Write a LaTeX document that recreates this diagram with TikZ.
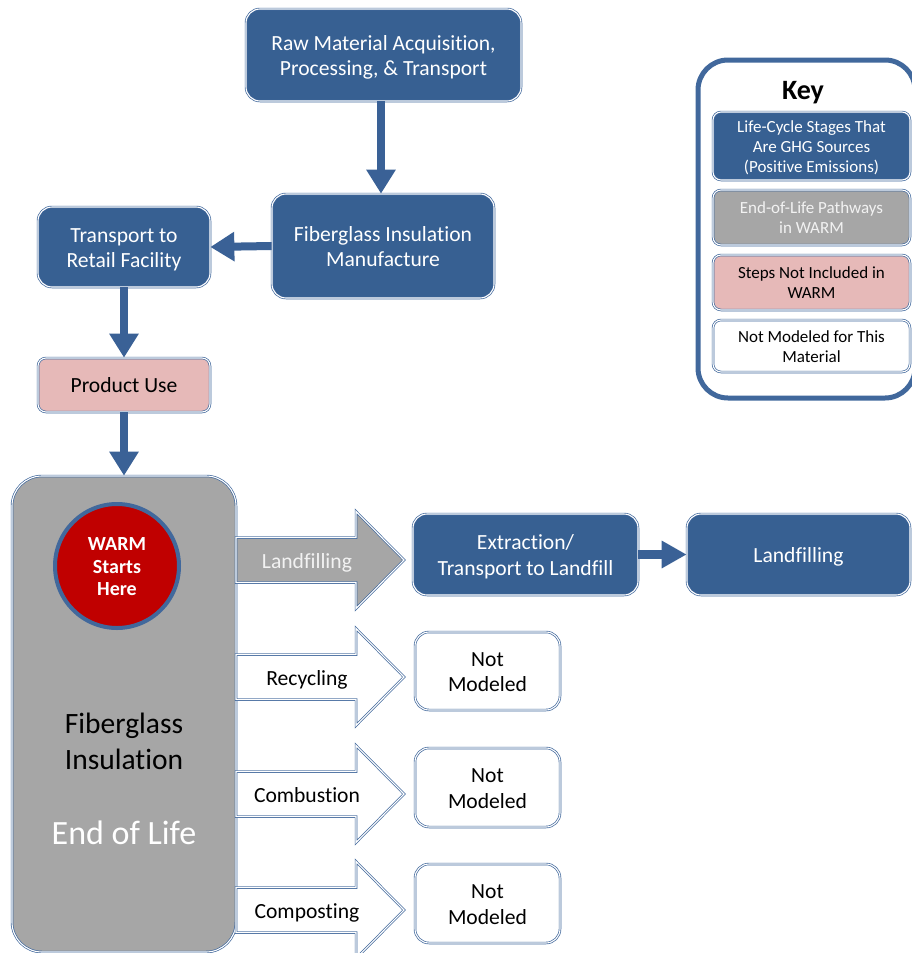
\documentclass[tikz,border=0pt]{standalone}
\usepackage{fontspec}
\setmainfont{Carlito}[Ligatures=NoCommon]
\usetikzlibrary{arrows.meta,calc}
\definecolor{boxblue}{HTML}{376092}
\definecolor{bord}{HTML}{41689C}
\definecolor{grayfill}{HTML}{A6A6A6}
\definecolor{pinkfill}{HTML}{E6B9B8}
\definecolor{warmred}{HTML}{C00000}
\definecolor{arrblue}{HTML}{3A6196}
\definecolor{ltext}{HTML}{F2F2F2}
% text block lowered a little, keeping its reported size
\newcommand\tl[2][2.8pt]{\raisebox{-#1}[\height][\depth]{\begin{tabular}{@{}c@{}}#2\end{tabular}}}
\begin{document}
\begin{tikzpicture}[x=1pt,y=-1pt,
  dbl/.style={draw=bord, double=white, double distance=1.1pt, line width=0.7pt},
  stage/.style={dbl, fill=boxblue, rounded corners=14pt, text=white,
    font=\fontsize{21.6}{25.5}\selectfont, inner sep=0pt},
  notincl/.style={stage, fill=pinkfill, text=black, rounded corners=8pt},
  notmod/.style={stage, fill=white, text=black},
  keyitem/.style={dbl, rounded corners=8pt, minimum width=197pt,
    inner sep=0pt, font=\fontsize{17}{20}\selectfont},
  flow/.style={draw=arrblue, line width=8pt, -{Triangle[width=28pt,length=24pt]}},
  flowsmall/.style={draw=arrblue, line width=9pt, -{Triangle[width=26pt,length=25pt]}},
  arrlabel/.style={font=\fontsize{21.6}{25}\selectfont, inner sep=0pt}
]
\useasboundingbox (0,0) rectangle (912,953);
\clip (0,0) rectangle (912,953);

% upstream stages
\node[stage, minimum width=275pt, minimum height=92pt] (raw) at (383.5,55)
  {\tl{Raw Material Acquisition,\\Processing, \& Transport}};
\node[stage, minimum width=222pt, minimum height=104pt] (manu) at (383,246)
  {\tl{Fiberglass Insulation\\Manufacture}};
\node[stage, minimum width=172pt, minimum height=80pt] (trans) at (124,247)
  {\tl{Transport to\\Retail Facility}};
\node[notincl, minimum width=172pt, minimum height=54pt] (use) at (124,385)
  {\tl{Product Use}};

% end of life box
\node[dbl, fill=grayfill, rounded corners=30pt, minimum width=224pt,
  minimum height=476pt] (eol) at (124,714) {};
\node[circle, draw=bord, line width=4pt, fill=warmred, minimum size=124pt,
  inner sep=0pt, text=white,
  font=\bfseries\fontsize{20}{22.5}\selectfont] (warm) at (117,566)
  {\tl{WARM\\Starts\\Here}};
\node[font=\fontsize{29.5}{36}\selectfont, align=center, inner sep=0pt] (fgi)
  at (124,741) {Fiberglass\\Insulation};
\node[font=\fontsize{34}{40}\selectfont, text=white, inner sep=0pt] (eoltext)
  at (124,833) {End of Life};

% downstream
\node[stage, minimum width=225pt, minimum height=81pt] (extr) at (525.5,554.5)
  {\tl{Extraction/\\Transport to Landfill}};
\node[stage, minimum width=223pt, minimum height=81pt] (land) at (798.5,554.5)
  {\tl{Landfilling}};
\node[notmod, minimum width=145pt, minimum height=78pt] (nm1) at (487.5,671)
  {\tl{Not\\Modeled}};
\node[notmod, minimum width=145pt, minimum height=79pt] (nm2) at (487.5,787.5)
  {\tl{Not\\Modeled}};
\node[notmod, minimum width=145pt, minimum height=79pt] (nm3) at (487.5,903.5)
  {\tl{Not\\Modeled}};

% block arrows
\newcommand\blockarr[5]{%
  \draw[dbl, fill=#2] (236,#1-22.5) -- (356,#1-22.5) -- (356,#1-48.5)
    -- (404,#1) -- (356,#1+48.5) -- (356,#1+22.5) -- (236,#1+22.5) -- cycle;
  \node[arrlabel, text=#3] (#5) at (307,#1+1) {\tl[2pt]{#4}};}
\blockarr{560}{grayfill}{ltext}{Landfilling}{aland}
\blockarr{677}{white}{black}{Recycling}{arec}
\blockarr{794}{white}{black}{Combustion}{acomb}
\blockarr{910}{white}{black}{Composting}{acomp}

% connectors
\draw[flow] (raw.south -| 381,0) -- (manu.north -| 381,0);
\draw[flow] (manu.west) -- (trans.east);
\draw[flow] (trans.south) -- (use.north);
\draw[flow] (use.south) -- (eol.north);
\draw[flowsmall] (extr.east) -- (land.west);

% key
\node[draw=bord, line width=5pt, fill=white, rounded corners=30pt,
  minimum width=217pt, minimum height=338pt] (key) at (806.5,229) {};
\node[font=\bfseries\fontsize{28}{32}\selectfont, inner sep=0pt] (keytitle)
  at (803,92.5) {Key};
\node[keyitem, fill=boxblue, text=white, minimum height=68pt] (k1) at (811.5,146)
  {\tl[2pt]{Life-Cycle Stages That\\Are GHG Sources\\(Positive Emissions)}};
\node[keyitem, fill=grayfill, text=ltext, minimum height=55pt] (k2) at (811.5,217.5)
  {\tl[2pt]{End-of-Life Pathways\\in WARM}};
\node[keyitem, fill=pinkfill, text=black, minimum height=55pt] (k3) at (811.5,282.5)
  {\tl[2pt]{Steps Not Included in\\WARM}};
\node[keyitem, fill=white, text=black, minimum height=52pt] (k4) at (811.5,346)
  {\tl[2pt]{Not Modeled for This\\Material}};
\end{tikzpicture}
\end{document}
